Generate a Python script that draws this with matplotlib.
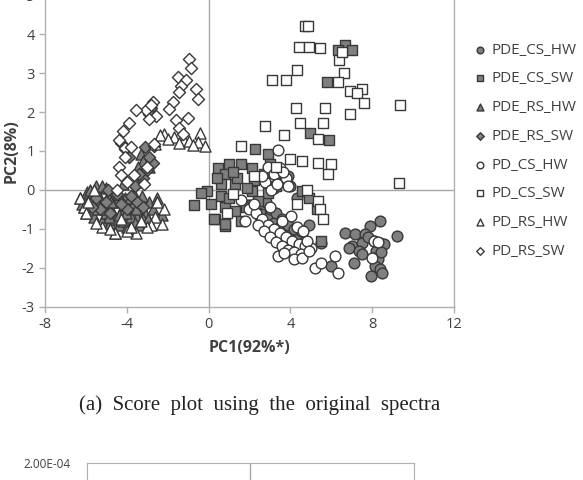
import matplotlib
matplotlib.use("Agg")
import matplotlib.pyplot as plt
from matplotlib.ticker import FixedLocator, FuncFormatter

plt.rcParams['font.family'] = ['Open Sans', 'DejaVu Sans']
plt.rcParams['axes.unicode_minus'] = False

# ---- data (PC1, PC2) ----
pde_cs_hw_x = [8.4, 7.9, 9.2, 6.65, 7.15, 7.65, 7.0, 7.5, 8.1, 8.4, 8.6, 6.85, 7.35, 7.5, 8.2, 8.1, 8.3,
               7.1, 8.15, 8.4, 7.95, 8.5, 6.0, 5.5, 8.45, 7.8,
               2.9, 3.2, 3.5, 3.8, 4.1, 4.4, 4.7, 3.0, 3.3, 3.6, 3.9, 4.2, 4.5, 2.6, 2.8, 3.4, 3.7, 4.0,
               4.3, 3.1, 3.5, 3.9, 2.4, 2.0, 4.9, 3.2]
pde_cs_hw_y = [-0.79, -0.92, -1.18, -1.1, -1.13, -1.13, -1.44, -1.36, -1.31, -1.36, -1.39, -1.49, -1.56,
               -1.64, -1.56, -1.74, -1.77, -1.87, -1.95, -2.03, -2.21, -2.13, -1.95, -1.36, -1.6, -1.2,
               -0.7, -0.85, -0.95, -1.05, -1.1, -1.2, -1.3, -0.5, -0.6, -0.75, -0.9, -1.0, -1.05, -0.45,
               -0.3, 0.3, 0.2, 0.1, -0.2, 0.5, 0.45, 0.35, -0.6, -0.4, -0.9, 0.05]

pde_cs_sw_x = [6.65, 6.35, 7.0, 5.77, 4.95, 5.9, 2.25, 2.9, 0.47, 1.0, 1.6, 2.1, 3.0, 0.8, 0.6, 1.27,
               -0.1, 0.6, 2.1, 2.9, 4.55, 4.9, 0.13, 0.8, 1.27, 1.95, 2.5, 0.3, 0.8, 1.6, -0.7, -0.36,
               0.28, 0.78, 1.85, 2.43, 1.4, 2.2, 3.3, 5.3, 5.5, 1.0, 1.9, 0.4, 1.2, 2.7]
pde_cs_sw_y = [3.71, 3.58, 3.6, 2.78, 1.45, 1.27, 1.06, 0.93, 0.55, 0.67, 0.67, 0.57, 0.67, 0.42, 0.16,
               0.16, -0.02, -0.15, -0.02, -0.07, -0.02, -0.2, -0.35, -0.45, -0.53, -0.4, -0.62, -0.75,
               -0.92, -0.79, -0.4, -0.07, -0.74, -0.87, -0.45, -0.28, 0.3, 0.25, 0.1, -0.5, -1.3, -0.2,
               0.05, 0.3, 0.45, 0.4]

pde_rs_hw_x = [-6.3, -6.1, -5.9, -5.7, -5.5, -5.3, -5.1, -4.9, -4.7, -4.5, -4.3, -4.1, -3.9, -3.7, -3.5,
               -3.3, -3.1, -2.9, -2.7, -2.5, -6.0, -5.8, -5.6, -5.4, -5.2, -5.0, -4.8, -4.6, -4.4, -4.2,
               -4.0, -3.8, -3.6, -3.4, -3.2, -5.5, -5.0, -4.6, -4.2, -3.55, -4.6, -3.3, -3.2, -2.9, -3.45,
               -6.2, -5.95, -5.65, -5.35, -5.05, -4.75, -4.45, -4.15, -3.85, -3.55, -3.25, -2.95,
               -5.8, -5.2, -4.4, -3.9, -2.3, -5.45, -4.85, -4.05, -3.65]
pde_rs_hw_y = [-0.2, -0.45, -0.1, -0.3, -0.05, -0.25, -0.4, -0.15, -0.55, -0.3, -0.6, -0.2, -0.5, -0.35,
               -0.7, -0.4, -0.6, -0.3, -0.5, -0.2, -0.6, -0.2, -0.7, -0.45, -0.8, -0.6, -0.85, -0.75,
               -0.9, -0.8, -0.95, -0.7, -0.85, -0.9, -0.75, 0.1, 0.05, -0.1, 0.15, 0.2, -1.1, 0.93,
               0.75, 0.6, 0.58,
               -0.35, -0.05, -0.5, -0.15, -0.5, -0.3, -0.1, -0.4, -0.2, -0.5, -0.15, -0.75,
               0.0, 0.1, -0.65, -1.0, -0.65, -0.35, -0.7, -0.6, -0.1]

pde_rs_sw_x = [-2.8, -2.9, -3.1, -4.3, -4.1, -3.9, -3.0, -2.7, -3.2, -2.65, -3.6, -4.5, -5.0, -5.5,
               -4.0, -3.5, -4.8, -5.3, -2.9, -3.4, -4.9, -5.7, -4.3, -3.8, -3.2]
pde_rs_sw_y = [2.1, 1.95, 1.1, 1.2, 1.05, 0.85, 0.5, 0.7, 0.3, 1.14, 0.1, -0.1, -0.3, -0.2, -0.5, -0.3,
               -0.6, -0.5, 0.85, 0.4, 0.0, -0.45, -0.35, -0.15, -0.45]

pd_cs_hw_x = [2.0, 2.3, 2.6, 2.9, 3.2, 3.5, 3.8, 4.1, 4.4, 4.7, 5.0, 2.4, 2.7, 3.0, 3.3, 3.6, 3.9, 4.2,
              4.5, 4.8, 3.4, 3.7, 4.2, 4.55, 4.9, 5.2, 5.5, 6.2, 6.35, 4.05, 3.4, 2.9, 3.2, 3.5, 3.8,
              1.8, 2.2, 3.0, 3.6, 4.3, 8.1, 8.3, 8.0, 3.9, 4.6, 2.75, 3.05, 3.35, 3.65, 2.6, 1.6]
pd_cs_hw_y = [-0.5, -0.6, -0.75, -0.9, -1.0, -1.1, -1.2, -1.3, -1.4, -1.45, -1.5, -0.9, -1.05, -1.2,
              -1.35, -1.45, -1.55, -1.6, -1.65, -1.3, -1.69, -1.61, -1.77, -1.74, -1.56, -2.0, -1.87,
              -1.69, -2.13, -0.66, 1.03, 0.6, 0.4, 0.55, 0.3, -0.8, -0.35, -0.45, -0.8, -0.95, -1.3,
              -1.35, -1.75, 0.1, -1.05, 0.2, 0.0, 0.15, 0.45, 0.35, -0.25]

pd_cs_sw_x = [4.7, 4.85, 4.4, 4.9, 5.45, 6.4, 6.6, 4.3, 3.8, 3.08, 6.35, 6.9, 7.5, 7.25, 7.6, 6.9, 4.26,
              5.7, 9.35, 9.3, 2.75, 4.45, 5.6, 3.7, 5.35, 1.6, 3.97, 4.55, 5.35, 6.0, 5.85, 4.3, 5.35,
              5.45, 5.6, 4.8, 2.2, 1.2, 0.9, 3.3, 6.5]
pd_cs_sw_y = [4.22, 4.22, 3.66, 3.66, 3.64, 3.33, 2.99, 3.07, 2.81, 2.81, 2.77, 2.53, 2.6, 2.5, 2.22,
              1.95, 2.1, 2.1, 2.18, 0.19, 1.63, 1.71, 1.73, 1.4, 1.3, 1.14, 0.8, 0.75, 0.7, 0.66, 0.42,
              -0.36, -0.28, -0.48, -0.74, 0.0, 0.35, -0.1, -0.6, 0.6, 3.55]

pd_rs_hw_x = [-2.16, -2.4, -1.68, -1.2, -0.4, -0.5, -0.2, -2.6, -2.0, -1.45, -0.95, -0.75,
              -6.3, -6.1, -4.6, -3.55, -2.2, -2.3, -2.6, -2.8, -3.0, -5.2, -4.8, -4.0, -3.3, -6.0,
              -5.5, -2.5, -3.8, -5.9, -5.6, -4.3]
pd_rs_hw_y = [1.44, 1.4, 1.35, 1.27, 1.47, 1.22, 1.14, 1.18, 1.3, 1.2, 1.25, 1.15,
              -0.2, -0.45, -1.1, -1.1, -0.48, -0.87, -0.7, -0.9, -0.95, -0.95, -1.0, -1.05, -0.8,
              -0.6, -0.85, -0.3, -0.95, -0.3, 0.0, -0.75]

pd_rs_sw_x = [-0.94, -0.85, -1.5, -1.1, -1.34, -0.6, -1.43, -0.5, -1.73, -1.96, -2.7, -3.05, -2.56,
              -3.55, -3.9, -4.2, -1.6, -1.0, -1.45, -4.4, -4.1, -3.8, -4.1, -4.4, -4.3, -3.63, -3.15,
              -2.65, -1.24, -2.8, -2.9, -4.0, -4.5, -3.0]
pd_rs_sw_y = [3.37, 3.12, 2.89, 2.81, 2.68, 2.59, 2.52, 2.33, 2.25, 2.08, 2.25, 2.04, 1.9, 2.04, 1.72,
              1.5, 1.79, 1.84, 1.58, 1.27, 1.07, 1.11, 0.84, 0.58, 0.37, 0.37, 0.16, 1.19, 1.44, 2.19,
              1.82, 0.2, 0.0, 0.6]

x_ticks = [-8, -4, 0, 4, 8, 12]
y_ticks = [-3, -2, -1, 0, 1, 2, 3, 4, 5]

series = [
    ("PDE_CS_HW", pde_cs_hw_x, pde_cs_hw_y, "o", "#7f7f7f"),
    ("PDE_CS_SW", pde_cs_sw_x, pde_cs_sw_y, "s", "#7f7f7f"),
    ("PDE_RS_HW", pde_rs_hw_x, pde_rs_hw_y, "^", "#7f7f7f"),
    ("PDE_RS_SW", pde_rs_sw_x, pde_rs_sw_y, "D", "#7f7f7f"),
    ("PD_CS_HW", pd_cs_hw_x, pd_cs_hw_y, "o", "white"),
    ("PD_CS_SW", pd_cs_sw_x, pd_cs_sw_y, "s", "white"),
    ("PD_RS_HW", pd_rs_hw_x, pd_rs_hw_y, "^", "white"),
    ("PD_RS_SW", pd_rs_sw_x, pd_rs_sw_y, "D", "white"),
]
sizes = {"o": 60, "s": 58, "^": 64, "D": 38}

fig = plt.figure(figsize=(5.83, 4.8), dpi=100)
ax = fig.add_axes([0.0772, 0.361, 0.7015, 0.649])

handles = []
for name, xs, ys, mk, fc in series:
    h = ax.scatter(xs, ys, s=sizes[mk], marker=mk, facecolor=fc, edgecolor="#383838",
                   linewidths=1.0, label=name, zorder=3)
    handles.append(h)

ax.set_xlim(-8, 12)
ax.set_ylim(-3, 5)
ax.axhline(0, color="#a6a6a6", lw=1, zorder=1)
ax.axvline(0, color="#a6a6a6", lw=1, zorder=1)
ax.xaxis.set_major_locator(FixedLocator(x_ticks))
ax.yaxis.set_major_locator(FixedLocator(y_ticks))
for sp in ax.spines.values():
    sp.set_color("#b0b0b0")
    sp.set_linewidth(1)
ax.tick_params(colors="#b0b0b0", labelcolor="#404040", labelsize=10.5, length=4, width=1)
ax.set_xlabel("PC1(92%*)", fontsize=11.5, fontweight="bold", color="#404040", labelpad=6)
ax.set_ylabel("PC2(8%)", fontsize=11.5, fontweight="bold", color="#404040", labelpad=1)

fig.legend(handles=handles, loc="upper left", bbox_to_anchor=(0.79, 0.94), frameon=False,
           fontsize=11, labelspacing=0.9, handletextpad=0.3, handlelength=0.8,
           markerscale=0.62, labelcolor="#404040")

fig.text(0.446, 0.155, "(a)  Score  plot  using  the  original  spectra",
         family="Liberation Serif", fontsize=15, ha="center", va="center", color="#222222")

# top edge of the next figure panel
ax2 = fig.add_axes([0.149, -0.5, 0.561, 0.535])
ax2.set_xlim(-1, 1)
ax2.set_ylim(0, 2.0e-4)
ax2.axvline(0, color="#a6a6a6", lw=1)
ax2.set_xticks([])
ax2.yaxis.set_major_locator(FixedLocator([2.0e-4]))
ax2.yaxis.set_major_formatter(FuncFormatter(lambda v, p: "2.00E-04"))
ax2.tick_params(axis="y", length=0, pad=12, labelsize=8.5, labelcolor="#404040")
ax2.spines["bottom"].set_visible(False)
for k in ["top", "left", "right"]:
    ax2.spines[k].set_color("#b0b0b0")

fig.savefig("out.png", dpi=100)
